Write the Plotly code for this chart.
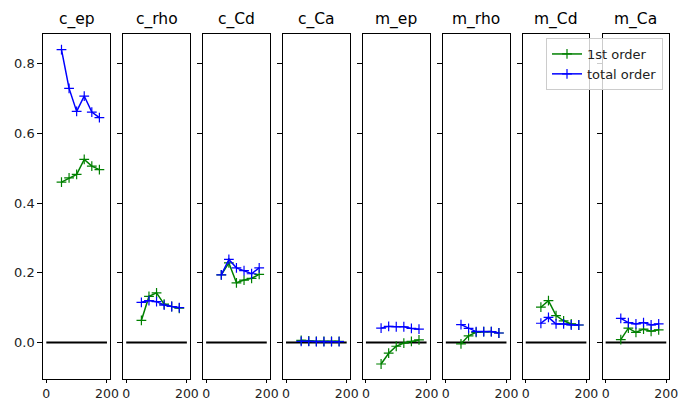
import plotly.graph_objects as go

# ---- data ----
params = ["c_ep", "c_rho", "c_Cd", "c_Ca", "m_ep", "m_rho", "m_Cd", "m_Ca"]
n_samples = [50, 75, 100, 125, 150, 175]

first_order = {
    "c_ep":  [0.460, 0.472, 0.482, 0.525, 0.506, 0.496],
    "c_rho": [0.063, 0.132, 0.142, 0.110, 0.103, 0.098],
    "c_Cd":  [0.194, 0.228, 0.171, 0.179, 0.184, 0.195],
    "c_Ca":  [0.006, 0.004, 0.003, 0.003, 0.003, 0.003],
    "m_ep":  [-0.062, -0.031, -0.011, -0.002, 0.003, 0.007],
    "m_rho": [-0.004, 0.019, 0.029, 0.031, 0.031, 0.027],
    "m_Cd":  [0.101, 0.120, 0.077, 0.062, 0.053, 0.050],
    "m_Ca":  [0.008, 0.041, 0.029, 0.038, 0.032, 0.036],
}
total_order = {
    "c_ep":  [0.840, 0.729, 0.663, 0.707, 0.661, 0.645],
    "c_rho": [0.115, 0.120, 0.117, 0.107, 0.103, 0.100],
    "c_Cd":  [0.194, 0.238, 0.214, 0.206, 0.197, 0.214],
    "c_Ca":  [0.003, 0.003, 0.002, 0.002, 0.002, 0.002],
    "m_ep":  [0.041, 0.046, 0.045, 0.045, 0.040, 0.038],
    "m_rho": [0.051, 0.040, 0.031, 0.031, 0.031, 0.027],
    "m_Cd":  [0.055, 0.072, 0.053, 0.053, 0.050, 0.050],
    "m_Ca":  [0.069, 0.057, 0.053, 0.057, 0.050, 0.053],
}
zero_x = [0, 200]
zero_y = [0, 0]
y_ticks = [0.0, 0.2, 0.4, 0.6, 0.8]
x_ticks = [0, 200]

# ---- layout geometry (pixels of the 683x400 canvas) ----
W, H = 683, 400
left0, step, pw = 43.3, 79.9, 66.7
top_px, bot_px = 34, 379

FONT = "DejaVu Sans"
fig = go.Figure()
layout = dict(
    width=W, height=H,
    margin=dict(l=0, r=0, t=0, b=0, autoexpand=False),
    paper_bgcolor="white", plot_bgcolor="white",
    font=dict(family=FONT, size=13, color="black"),
    showlegend=True,
    legend=dict(
        x=663 / W, xanchor="right", y=1 - 38 / H, yanchor="top",
        bgcolor="rgba(255,255,255,0.8)", bordercolor="#cccccc", borderwidth=1,
        font=dict(family=FONT, size=13, color="#222"),
        itemwidth=30, tracegroupgap=0,
    ),
    annotations=[],
)

for i, p in enumerate(params):
    k = "" if i == 0 else str(i + 1)
    x0 = (left0 + i * step) / W
    x1 = (left0 + i * step + pw) / W
    layout["xaxis" + k] = dict(
        domain=[x0, x1], range=[-10, 210], anchor="y" + k, automargin=False,
        tickvals=x_ticks, ticktext=[str(v) for v in x_ticks],
        ticks="outside", ticklen=3, tickcolor="black", tickwidth=1,
        showline=True, linecolor="black", linewidth=1, mirror=True,
        showgrid=False, zeroline=False,
        tickfont=dict(family=FONT, size=12.5, color="#222"),
    )
    layout["yaxis" + k] = dict(
        domain=[1 - bot_px / H, 1 - top_px / H], range=[-0.105, 0.885],
        anchor="x" + k, automargin=False,
        tickvals=y_ticks, ticktext=[f"{v:.1f}" for v in y_ticks],
        showticklabels=(i == 0),
        ticks="outside", ticklen=5, tickcolor="black", tickwidth=1,
        showline=True, linecolor="black", linewidth=1, mirror=True,
        showgrid=False, zeroline=False,
        tickfont=dict(family=FONT, size=13, color="#222"),
    )
    layout["annotations"].append(dict(
        text=p, x=(x0 + x1) / 2, xref="paper", xanchor="center",
        y=1 - top_px / H, yref="paper", yanchor="bottom", yshift=3,
        showarrow=False, font=dict(family=FONT, size=15.5, color="black"),
    ))
    xa, ya = "x" + k, "y" + k
    fig.add_trace(go.Scatter(
        x=zero_x, y=zero_y, mode="lines", xaxis=xa, yaxis=ya,
        line=dict(color="black", width=2), showlegend=False, hoverinfo="skip",
    ))
    fig.add_trace(go.Scatter(
        x=n_samples, y=first_order[p], mode="lines+markers", xaxis=xa, yaxis=ya,
        name="1st order", legendgroup="first", showlegend=(i == 0),
        line=dict(color="#008000", width=1.5),
        marker=dict(symbol="cross-thin", size=7, color="#008000",
                    line=dict(color="#008000", width=1.2)),
    ))
    fig.add_trace(go.Scatter(
        x=n_samples, y=total_order[p], mode="lines+markers", xaxis=xa, yaxis=ya,
        name="total order", legendgroup="total", showlegend=(i == 0),
        line=dict(color="#0000ff", width=1.5),
        marker=dict(symbol="cross-thin", size=7, color="#0000ff",
                    line=dict(color="#0000ff", width=1.2)),
    ))

fig.update_layout(**layout)
fig.write_html(
    "out.html",
    config={"displayModeBar": False},
    post_script="document.body.style.margin='0px';document.body.style.overflow='hidden';",
)
